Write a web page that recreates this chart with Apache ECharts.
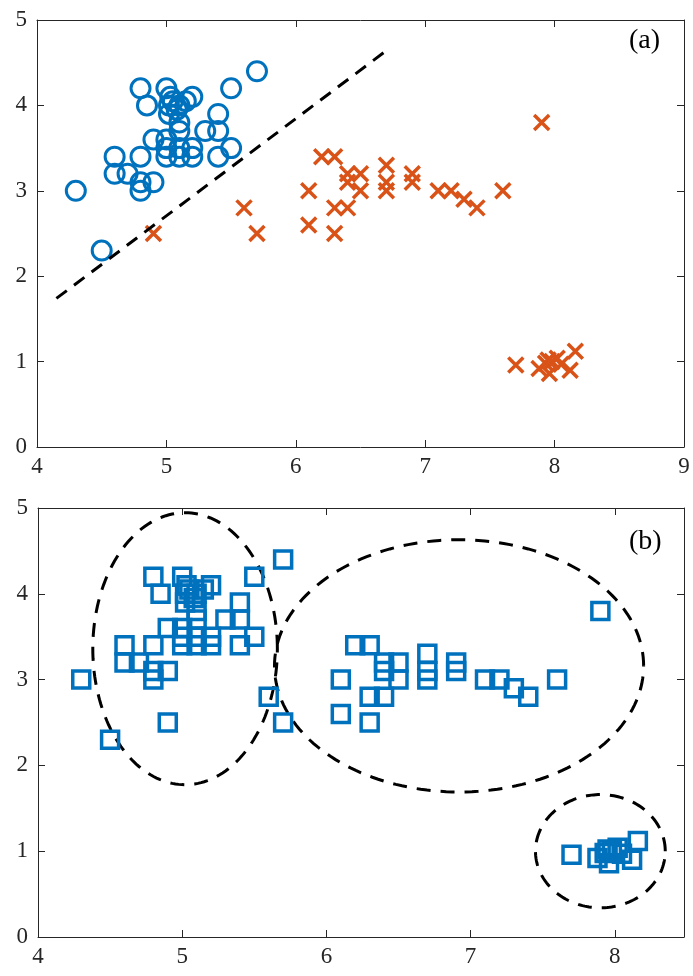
<!DOCTYPE html>
<html>
<head>
<meta charset="utf-8">
<script src="https://cdn.jsdelivr.net/npm/echarts@6/dist/echarts.min.js"></script>
<style>html,body{margin:0;padding:0;background:#fff;}#c{width:693px;height:976px;}</style>
</head>
<body>
<div id="c"></div>
<script>
// Class 1 (blue circles in (a))
const blueX = [4.3,4.5,4.6,4.6,4.7,4.8,4.8,4.8,4.9,4.9,4.8,5.0,4.85,5.0,5.0,5.0,5.1,5.1,5.1,5.1,5.2,5.2,5.3,5.4,5.4,5.4,5.5,5.5,5.7,5.03,5.2,5.02,5.1,5.02,5.15,5.08,5.05];
const blueY = [3.0,2.3,3.4,3.2,3.2,3.4,3.1,3.0,3.1,3.6,4.2,4.2,4.0,3.6,3.5,3.4,3.8,3.7,3.5,3.4,3.5,3.4,3.7,3.9,3.7,3.4,3.5,4.2,4.4,4.1,4.1,4.0,4.0,3.9,4.05,3.95,4.05];
// Class 2 (orange crosses in (a))
const orangeX = [4.9,5.6,5.7,6.1,6.1,6.2,6.3,6.3,6.3,6.4,6.4,6.4,6.5,6.5,6.7,6.7,6.7,6.9,6.9,7.1,7.2,7.3,7.4,7.6,7.9,7.7,7.88,7.93,7.96,7.98,8.02,8.05,8.12,8.16,7.95];
const orangeY = [2.5,2.8,2.5,3.0,2.6,3.4,3.4,2.8,2.5,2.8,3.2,3.1,3.2,3.0,3.3,3.1,3.0,3.2,3.1,3.0,3.0,2.9,2.8,3.0,3.8,0.96,0.92,0.98,0.86,1.0,1.04,0.97,0.9,1.12,1.02];
// Dashed separating line in (a)
const lineX = [4.15, 6.69];
const lineY = [1.74, 4.63];
// Dashed ellipses in (b): centre x, centre y, radius x, radius y
const ellCX = [5.02, 6.92, 7.90];
const ellCY = [3.36, 3.16, 1.00];
const ellRX = [0.64, 1.28, 0.45];
const ellRY = [1.585, 1.47, 0.66];
// Tick labels
const xTicksA = [4,5,6,7,8,9];
const xTicksB = [4,5,6,7,8];
const yTicks = [0,1,2,3,4,5];

const zip = (a,b) => a.map((v,i)=>[v,b[i]]);
const allX = blueX.concat(orangeX), allY = blueY.concat(orangeY);
const FONT = "'Times New Roman', 'Liberation Serif', serif";
const AX = '#262626';
const BLUE = '#0072BD', ORANGE = '#D95319';

function xAx(gi, min, max, ticks, mirror){
  return {
    gridIndex: gi, type:'value', min, max, interval:1, position: mirror?'top':'bottom',
    axisLine:{show:true, onZero:false, lineStyle:{color:AX, width:1}},
    axisTick:{show:true, inside:true, length:7, lineStyle:{color:AX}},
    splitLine:{show:false},
    axisLabel:{show:!mirror, margin:8, color:AX, fontFamily:FONT, fontSize:23,
      formatter: v => ticks.indexOf(v) >= 0 ? String(v) : ''}
  };
}
function yAx(gi, mirror){
  return {
    gridIndex: gi, type:'value', min:0, max:5, interval:1, position: mirror?'right':'left',
    axisLine:{show:true, onZero:false, lineStyle:{color:AX, width:1}},
    axisTick:{show:true, inside:true, length:7, lineStyle:{color:AX}},
    splitLine:{show:false},
    axisLabel:{show:!mirror, margin:10, color:AX, fontFamily:FONT, fontSize:23,
      formatter: v => yTicks.indexOf(v) >= 0 ? String(v) : ''}
  };
}

const chart = echarts.init(document.getElementById('c'), null, {renderer:'canvas'});
chart.setOption({
  animation:false,
  backgroundColor:'#fff',
  grid:[
    {left:37, top:20, right:9, bottom:529},
    {left:38, top:508, right:9, bottom:39}
  ],
  xAxis:[xAx(0,4,9,xTicksA,false), xAx(0,4,9,xTicksA,true), xAx(1,4,8.48,xTicksB,false), xAx(1,4,8.48,xTicksB,true)],
  yAxis:[yAx(0,false), yAx(0,true), yAx(1,false), yAx(1,true)],
  graphic:[
    {type:'text', left:629, top:27, style:{text:'(a)', font:"28px 'Times New Roman', 'Liberation Serif', serif", fill:'#000'}},
    {type:'text', left:629, top:528, style:{text:'(b)', font:"28px 'Times New Roman', 'Liberation Serif', serif", fill:'#000'}}
  ],
  series:[
    {type:'scatter', xAxisIndex:0, yAxisIndex:0, data:zip(blueX,blueY), symbol:'circle', symbolSize:19,
      itemStyle:{color:'rgba(0,0,0,0)', borderColor:BLUE, borderWidth:3, opacity:1}},
    {type:'scatter', xAxisIndex:0, yAxisIndex:0, data:zip(orangeX,orangeY), symbol:'path://M0,0L10,10M10,0L0,10', symbolSize:15,
      itemStyle:{color:'rgba(0,0,0,0)', borderColor:ORANGE, borderWidth:3.5, opacity:1}},
    {type:'line', xAxisIndex:0, yAxisIndex:0, data:zip(lineX,lineY), symbol:'none',
      lineStyle:{color:'#000', width:3, type:[13,9]}},
    {type:'scatter', xAxisIndex:2, yAxisIndex:2, data:zip(allX,allY), symbol:'rect', symbolSize:17,
      itemStyle:{color:'rgba(0,0,0,0)', borderColor:BLUE, borderWidth:3.5, opacity:1}},
    {type:'custom', xAxisIndex:2, yAxisIndex:2,
      data: ellCX.map((v,i)=>[v, ellCY[i], ellRX[i], ellRY[i]]),
      encode:{x:0, y:1},
      renderItem:(params, api) => {
        const c = api.coord([api.value(0), api.value(1)]);
        const s = api.size([api.value(2), api.value(3)]);
        const pts = [];
        for (let k=0;k<=180;k++){
          const t = k/180*Math.PI*2;
          pts.push([c[0] + s[0]*Math.cos(t), c[1] - s[1]*Math.sin(t)]);
        }
        return {type:'polyline', shape:{points:pts}, style:{fill:null, stroke:'#000', lineWidth:3, lineDash:[14,10]}};
      }}
  ]
});
</script>
</body>
</html>
